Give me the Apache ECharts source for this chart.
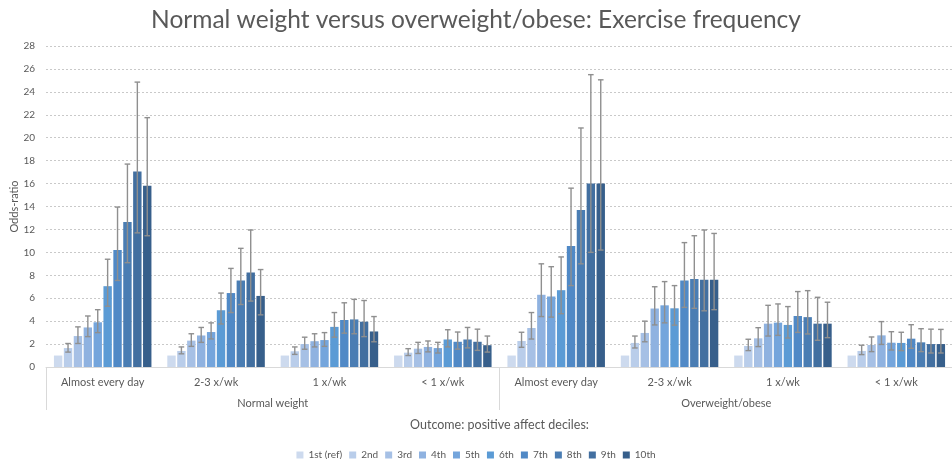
<!DOCTYPE html>
<html><head><meta charset="utf-8">
<script src="https://cdn.jsdelivr.net/npm/echarts@6/dist/echarts.min.js"></script>
<style>html,body{margin:0;padding:0;background:#fff}#c{width:952px;height:459px}</style>
</head><body><div id="c"></div>
<script>
const categories = ['Almost every day','2-3 x/wk','1 x/wk','< 1 x/wk','Almost every day','2-3 x/wk','1 x/wk','< 1 x/wk'];
const groups = ['Normal weight','Overweight/obese'];
const deciles = ['1st (ref)','2nd','3rd','4th','5th','6th','7th','8th','9th','10th'];
const yTicks = {min:0, max:28, interval:2};

// odds ratios per category (10 deciles each)
const nwDaily   = [1.0, 1.65, 2.7, 3.45, 3.9, 7.05, 10.2, 12.65, 17.05, 15.8];
const nwDailyLo = [null, 1.3, 2.05, 2.65, 3.0, 5.3, 7.55, 9.1, 11.7, 11.45];
const nwDailyHi = [null, 2.05, 3.5, 4.45, 5.0, 9.4, 13.95, 17.7, 24.85, 21.75];

const nw23   = [1.0, 1.4, 2.3, 2.75, 3.05, 4.95, 6.45, 7.55, 8.25, 6.2];
const nw23Lo = [null, 1.15, 1.8, 2.15, 2.45, 3.75, 4.75, 5.45, 5.75, 4.55];
const nw23Hi = [null, 1.75, 2.9, 3.45, 3.85, 6.45, 8.6, 10.35, 11.95, 8.5];

const nw1   = [1.0, 1.37, 2.0, 2.25, 2.35, 3.5, 4.1, 4.15, 3.95, 3.1];
const nw1Lo = [null, 1.1, 1.55, 1.75, 1.8, 2.6, 2.95, 2.9, 2.65, 2.2];
const nw1Hi = [null, 1.75, 2.6, 2.9, 3.0, 4.75, 5.6, 5.9, 5.8, 4.4];

const nwLt1   = [1.0, 1.25, 1.6, 1.75, 1.65, 2.4, 2.2, 2.4, 2.2, 1.9];
const nwLt1Lo = [null, 1.0, 1.18, 1.32, 1.22, 1.75, 1.56, 1.67, 1.45, 1.3];
const nwLt1Hi = [null, 1.6, 2.15, 2.27, 2.15, 3.25, 3.05, 3.45, 3.3, 2.7];

const owDaily   = [1.0, 2.27, 3.4, 6.3, 6.15, 6.7, 10.55, 13.7, 16.0, 16.0];
const owDailyLo = [null, 1.72, 2.44, 4.4, 4.35, 4.65, 7.1, 9.0, 10.0, 10.2];
const owDailyHi = [null, 3.03, 4.75, 9.0, 8.75, 9.6, 15.6, 20.85, 25.5, 25.05];

const ow23   = [1.0, 2.1, 2.97, 5.1, 5.38, 5.12, 7.55, 7.68, 7.62, 7.62];
const ow23Lo = [null, 1.66, 2.2, 3.67, 3.85, 3.65, 5.2, 5.12, 4.9, 5.0];
const ow23Hi = [null, 2.7, 4.0, 7.0, 7.45, 7.1, 10.85, 11.45, 11.95, 11.65];

const ow1   = [1.0, 1.83, 2.5, 3.78, 3.87, 3.67, 4.45, 4.35, 3.78, 3.78];
const ow1Lo = [null, 1.43, 1.78, 2.7, 2.76, 2.53, 3.02, 2.88, 2.33, 2.56];
const ow1Hi = [null, 2.42, 3.43, 5.38, 5.5, 5.27, 6.58, 6.66, 6.08, 5.65];

const owLt1   = [1.0, 1.4, 1.92, 2.76, 2.12, 2.1, 2.47, 2.15, 2.0, 2.0];
const owLt1Lo = [null, 1.08, 1.34, 1.97, 1.48, 1.43, 1.63, 1.34, 1.22, 1.22];
const owLt1Hi = [null, 1.9, 2.62, 3.96, 3.08, 3.03, 3.69, 3.34, 3.3, 3.28];

const colors = ['#cddaee','#b9cdea','#a6c0e5','#8fb2e0','#74a5dc','#5b9bd5','#5089c6','#4a7db3','#426fa0','#375f8b'];

const orByCat = [nwDaily, nw23, nw1, nwLt1, owDaily, ow23, ow1, owLt1];
const loByCat = [nwDailyLo, nw23Lo, nw1Lo, nwLt1Lo, owDailyLo, ow23Lo, ow1Lo, owLt1Lo];
const hiByCat = [nwDailyHi, nw23Hi, nw1Hi, nwLt1Hi, owDailyHi, ow23Hi, ow1Hi, owLt1Hi];

const FONT = 'Lato';
const CAT_GAP = 0.14, BAR_GAP = 0.18, N = deciles.length;

const series = [];
deciles.forEach((name, i) => {
  series.push({
    name, type: 'bar', xAxisIndex: 0, yAxisIndex: 0,
    barCategoryGap: '14%', barGap: '18%',
    itemStyle: {color: colors[i]},
    data: orByCat.map(a => a[i])
  });
});
deciles.forEach((name, i) => {
  if (i === 0) return;
  series.push({
    name: 'err' + i, type: 'custom', xAxisIndex: 0, yAxisIndex: 0, z: 5,
    silent: true,
    encode: {x: 0, y: [1, 2]},
    data: categories.map((c, k) => [k, loByCat[k][i], hiByCat[k][i]]),
    renderItem: function (params, api) {
      const k = api.value(0), lo = api.value(1), hi = api.value(2);
      const band = api.size([1, 0])[0];
      const total = band * (1 - CAT_GAP);
      const bw = total / (N + (N - 1) * BAR_GAP);
      const cx = api.coord([k, 0])[0] - total / 2 + i * bw * (1 + BAR_GAP) + bw / 2;
      const y1 = api.coord([k, lo])[1], y2 = api.coord([k, hi])[1];
      const cap = 2.8;
      const st = {stroke: '#8f8f8f', lineWidth: 1.4};
      return {type: 'group', children: [
        {type: 'line', shape: {x1: cx, y1: y1, x2: cx, y2: y2}, style: st},
        {type: 'line', shape: {x1: cx - cap, y1: y1, x2: cx + cap, y2: y1}, style: st},
        {type: 'line', shape: {x1: cx - cap, y1: y2, x2: cx + cap, y2: y2}, style: st}
      ]};
    }
  });
});

const chart = echarts.init(document.getElementById('c'), null, {renderer: 'canvas'});
chart.setOption({
  animation: false,
  textStyle: {fontFamily: FONT},
  title: {
    text: 'Normal weight versus overweight/obese: Exercise frequency',
    left: 'center', top: 3,
    textStyle: {fontFamily: FONT, fontSize: 24.5, fontWeight: 'normal', color: '#595959'}
  },
  legend: {
    data: deciles, top: 445, left: 'center',
    icon: 'rect', itemWidth: 7, itemHeight: 7, itemGap: 7,
    textStyle: {fontFamily: FONT, fontSize: 10, color: '#595959'}
  },
  grid: {left: 46, right: -1, top: 46, bottom: 92, outerBoundsMode: 'none', containLabel: false},
  xAxis: [
    {
      type: 'category', data: categories, position: 'bottom',
      axisLine: {show: true, lineStyle: {color: '#d9d9d9', width: 1}},
      axisTick: {show: false},
      axisLabel: {margin: 10, fontSize: 11, color: '#595959', fontFamily: FONT, interval: 0}
    },
    {
      type: 'category', data: groups, position: 'bottom',
      axisLine: {show: false},
      axisTick: {show: true, length: 43, lineStyle: {color: '#d9d9d9', width: 1}},
      axisLabel: {margin: 31, fontSize: 11, color: '#595959', fontFamily: FONT},
      name: 'Outcome: positive affect deciles:', nameLocation: 'middle', nameGap: 51,
      nameMoveOverlap: false,
      nameTextStyle: {fontSize: 12.5, color: '#595959', fontFamily: FONT}
    }
  ],
  yAxis: {
    type: 'value', min: yTicks.min, max: yTicks.max, interval: yTicks.interval,
    name: 'Odds-ratio', nameLocation: 'middle', nameGap: 26, nameMoveOverlap: false,
    nameTextStyle: {fontSize: 11, color: '#595959', fontFamily: FONT},
    axisLine: {show: false}, axisTick: {show: false},
    axisLabel: {fontSize: 10, color: '#595959', margin: 11, fontFamily: FONT},
    splitLine: {lineStyle: {color: '#c9c9c9', type: [2, 2], width: 1}}
  },
  series
});
</script>
</body></html>
